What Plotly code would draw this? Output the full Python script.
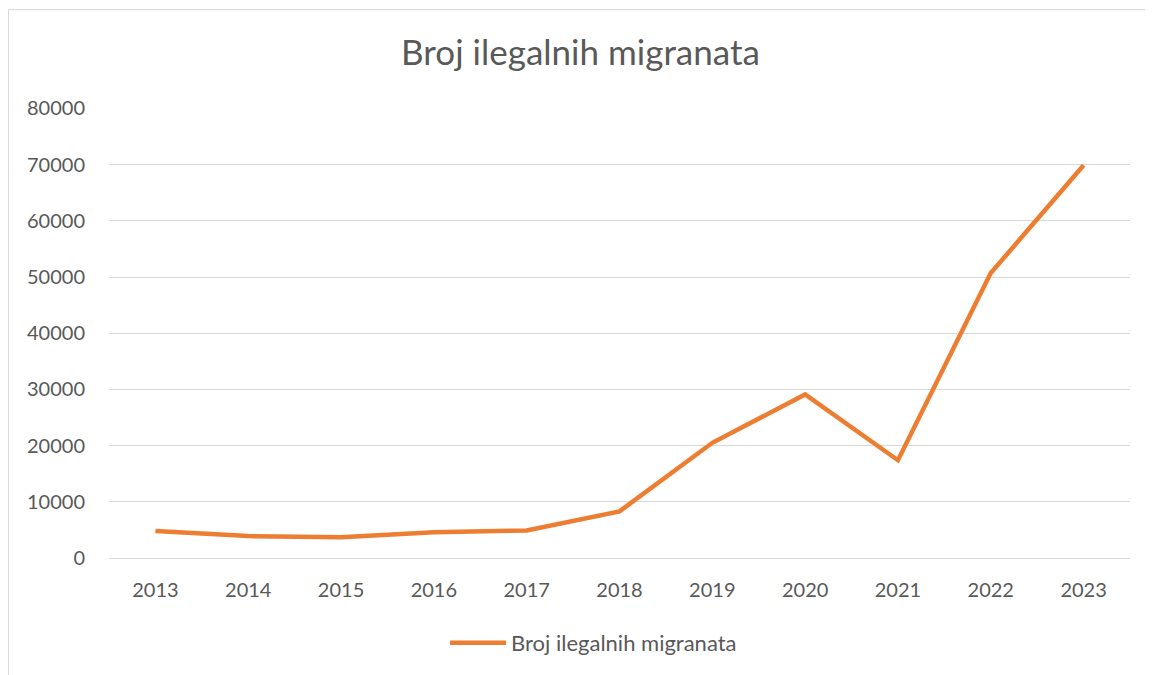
import plotly.graph_objects as go

years = ["2013", "2014", "2015", "2016", "2017", "2018", "2019", "2020", "2021", "2022", "2023"]
migrants = [4800, 3900, 3700, 4600, 4900, 8300, 20500, 29100, 17400, 50700, 69900]
series_name = "Broj ilegalnih migranata"
title_text = "Broj ilegalnih migranata"

# page body has an 8px margin, so the figure is shifted by (8, 8)
W, H = 1145, 667
ml, mr, mt, mb = 101, 23, 100, 116
pw, ph = W - ml - mr, H - mt - mb

fig = go.Figure()
fig.add_trace(go.Scatter(
    x=years, y=migrants, mode="lines", name=series_name,
    line=dict(color="#ED7D31", width=4.5),
))

font_family = "Lato, 'Open Sans', sans-serif"
fig.update_layout(
    width=W, height=H,
    margin=dict(l=ml, r=mr, t=mt, b=mb),
    paper_bgcolor="white", plot_bgcolor="white",
    font=dict(family=font_family, color="#595959", size=20),
    title=dict(text=title_text, x=0.5, xanchor="center", y=1 - 45 / H, yanchor="middle",
               font=dict(size=35, color="#595959", family=font_family)),
    showlegend=True,
    legend=dict(orientation="h", x=0.5 - 26 / pw, xanchor="center", y=-(635 - (H - mb)) / ph,
                yanchor="middle", font=dict(size=22, color="#595959"), itemwidth=56),
    xaxis=dict(type="category", range=[-0.5, 10.5], showgrid=False, zeroline=False,
               showline=False, ticks="outside", ticklen=14, tickcolor="rgba(0,0,0,0)",
               tickfont=dict(size=20, color="#595959")),
    yaxis=dict(range=[0, 80080], tickvals=[0, 10000, 20000, 30000, 40000, 50000, 60000, 70000, 80000],
               showgrid=True, gridcolor="#D9D9D9", gridwidth=1,
               zeroline=True, zerolinecolor="#D9D9D9", zerolinewidth=1,
               showline=False, ticks="outside", ticklen=19,
               tickcolor="rgba(0,0,0,0)", tickformat="d",
               tickfont=dict(size=20, color="#595959")),
)

# chart border (top and left edges visible)
fig.add_shape(type="rect", xref="paper", yref="paper",
              x0=-(ml - 0.5) / pw, x1=(W + 5 - ml) / pw,
              y0=-(mb + 5) / ph, y1=(ph + mt - 1.5) / ph,
              line=dict(color="#D9D9D9", width=1), fillcolor="rgba(0,0,0,0)", layer="below")

fig.write_html("out.html")
